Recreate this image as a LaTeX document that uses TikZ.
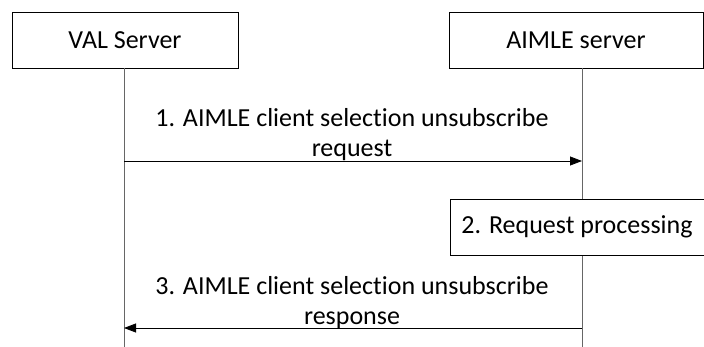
\documentclass[tikz,border=0pt]{standalone}
\usepackage{fontspec}
\setmainfont{Carlito}[Ligatures=NoCommon]
\usetikzlibrary{arrows.meta}
\begin{document}
\begin{tikzpicture}[x=1pt, y=-1pt, font=\fontsize{26}{30}\selectfont,
        box/.style={draw, fill=white, minimum height=56pt, inner sep=0pt},
        life/.style={draw=black!60, line width=0.8pt},
        msg/.style={line width=0.8pt, -{Triangle[length=12pt, width=9pt]}},
        lbl/.style={align=center, inner sep=0pt}]
        \useasboundingbox (0,0) rectangle (704,347);
        \node[box, minimum width=226pt] (val) at (125,40) {VAL Server};
        \node[box, minimum width=254pt] (aimle) at (576,40) {AIMLE server};
        \coordinate (valend) at (124,347);
        \coordinate (aimleend) at (582,347);
        \coordinate (m1s) at (124,161);
        \coordinate (m1e) at (582,161);
        \coordinate (m3s) at (582,328);
        \coordinate (m3e) at (124,328);
        \draw[life] (124,68) -- (valend);
        \draw[life] (582,68) -- (aimleend);
        \node[box, minimum width=254pt] (proc) at (577,227) {2. Request processing};
        \draw[msg] (m1s) -- (m1e);
        \draw[msg] (m3s) -- (m3e);
        \node[lbl] (t1) at (352,135) {1. AIMLE client selection unsubscribe\\request};
        \node[lbl] (t3) at (352,303) {3. AIMLE client selection unsubscribe\\response};
    \end{tikzpicture}
\end{document}
